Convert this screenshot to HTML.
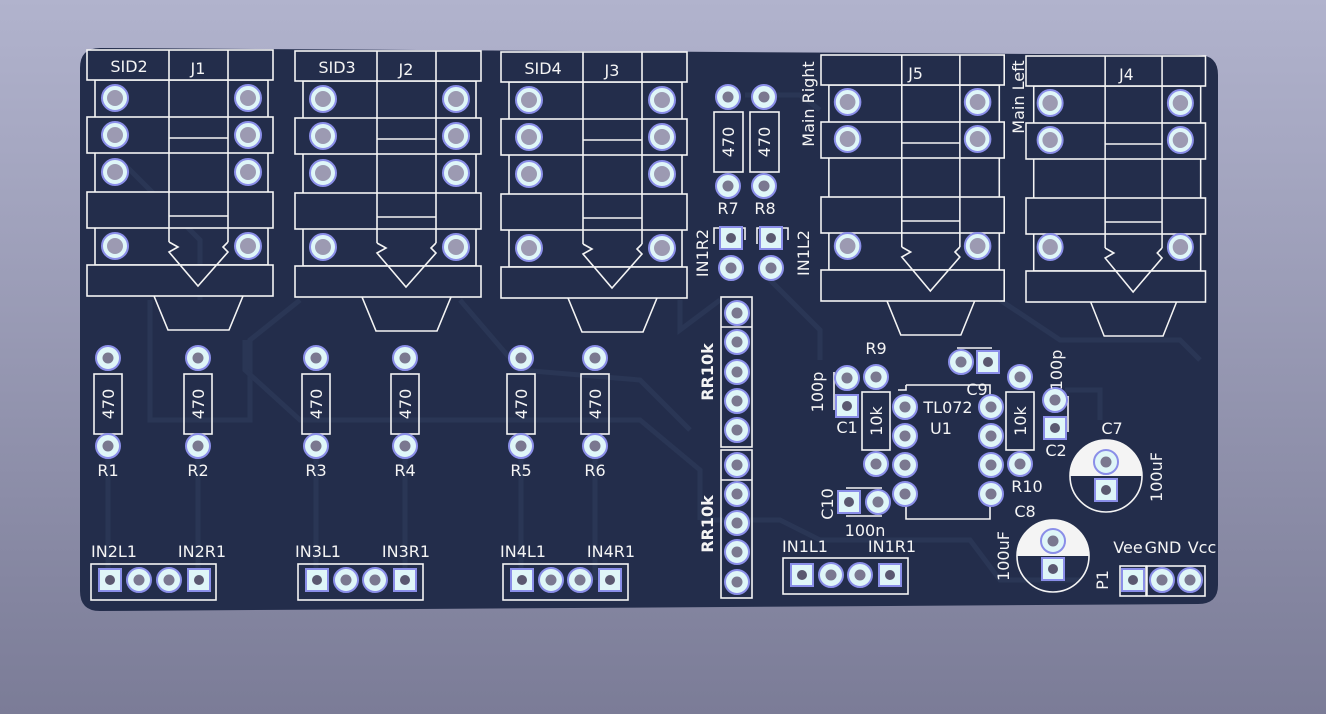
<!DOCTYPE html>
<html><head><meta charset="utf-8"><style>
html,body{margin:0;padding:0;width:1326px;height:714px;overflow:hidden}
svg{display:block}
text{font-family:"DejaVu Sans","Liberation Sans",sans-serif;fill:#f4f4f4;font-size:16px}
</style></head><body>
<svg width="1326" height="714" viewBox="0 0 1326 714" xmlns="http://www.w3.org/2000/svg">
<defs>
<linearGradient id="bg" x1="0" y1="0" x2="0" y2="1">
<stop offset="0" stop-color="#b1b3cd"/><stop offset="1" stop-color="#7b7c97"/></linearGradient>
<g id="pj"><circle r="13" fill="#dff6f8" stroke="#8a8ee8" stroke-width="2"/><circle r="8" fill="#9c9ab2"/></g>
<g id="pr"><circle r="12" fill="#dff6f8" stroke="#8a8ee8" stroke-width="2"/><circle r="5.5" fill="#7a7890"/></g>
<g id="ps"><rect x="-11" y="-11" width="22" height="22" fill="#dff6f8" stroke="#8a8ee8" stroke-width="2"/><circle r="5" fill="#5a5870"/></g>
<g id="jack" fill="none" stroke="#f4f4f4" stroke-width="1.6">
<rect x="8" y="30" width="173" height="185"/>
<rect x="0" y="0" width="186" height="30" fill="#232d4b"/>
<line x1="82" y1="0" x2="82" y2="30"/><line x1="141" y1="0" x2="141" y2="30"/>
<rect x="0" y="67" width="186" height="36" fill="#232d4b"/>
<rect x="0" y="142" width="186" height="36" fill="#232d4b"/>
<rect x="0" y="215" width="186" height="31" fill="#232d4b"/>
<line x1="82" y1="30" x2="82" y2="192"/><line x1="141" y1="30" x2="141" y2="192"/>
<line x1="82" y1="88" x2="141" y2="88"/><line x1="82" y1="166" x2="141" y2="166"/>
<polyline points="82,192 91,197 82,202 111,236 141,202 136,197 141,192"/>
<polyline points="67,246 81,280 142,280 156,246"/>
</g>
</defs>
<rect width="1326" height="714" fill="url(#bg)"/>
<path d="M100,48 L1198,55 Q1218,55 1218,75 L1218,585 Q1218,604 1198,604 L100,611 Q80,611 80,591 L80,68 Q80,48 100,48 Z" fill="#232d4b"/>
<g stroke="#2a3655" stroke-width="5" fill="none">
<polyline points="108,446 108,580"/><polyline points="198,446 198,580"/>
<polyline points="316,446 316,580"/><polyline points="405,446 405,580"/>
<polyline points="521,446 521,580"/><polyline points="595,446 595,580"/>
<polyline points="150,300 150,420 250,420 250,340 300,300"/>
<polyline points="245,340 245,370 300,420 640,420 700,470 700,520"/>
<polyline points="460,300 520,370 640,380 690,430"/>
<polyline points="680,300 680,330 720,300"/>
<polyline points="770,280 820,330 820,360"/>
<polyline points="700,520 780,520 820,540 970,540 1000,580 1080,580"/>
<polyline points="1000,300 1060,340 1180,340 1200,360"/>
<polyline points="1065,390 1100,390 1100,420"/>
<polyline points="745,95 800,95 820,110"/>
<polyline points="120,160 200,240 200,300"/>
</g>
<g transform="translate(87,50)"><use href="#jack"/><text x="42" y="22" text-anchor="middle">SID2</text><text x="111" y="24" text-anchor="middle">J1</text>
<use href="#pj" x="28" y="48"/><use href="#pj" x="161" y="48"/><use href="#pj" x="28" y="85"/><use href="#pj" x="161" y="85"/><use href="#pj" x="28" y="122"/><use href="#pj" x="161" y="122"/><use href="#pj" x="28" y="196"/><use href="#pj" x="161" y="196"/></g>
<g transform="translate(295,51)"><use href="#jack"/><text x="42" y="22" text-anchor="middle">SID3</text><text x="111" y="24" text-anchor="middle">J2</text>
<use href="#pj" x="28" y="48"/><use href="#pj" x="161" y="48"/><use href="#pj" x="28" y="85"/><use href="#pj" x="161" y="85"/><use href="#pj" x="28" y="122"/><use href="#pj" x="161" y="122"/><use href="#pj" x="28" y="196"/><use href="#pj" x="161" y="196"/></g>
<g transform="translate(501,52)"><use href="#jack"/><text x="42" y="22" text-anchor="middle">SID4</text><text x="111" y="24" text-anchor="middle">J3</text>
<use href="#pj" x="28" y="48"/><use href="#pj" x="161" y="48"/><use href="#pj" x="28" y="85"/><use href="#pj" x="161" y="85"/><use href="#pj" x="28" y="122"/><use href="#pj" x="161" y="122"/><use href="#pj" x="28" y="196"/><use href="#pj" x="161" y="196"/></g>
<g transform="translate(821,55) scale(0.985,1)"><use href="#jack"/><text x="96" y="24" text-anchor="middle">J5</text>
<use href="#pj" x="27" y="47"/><use href="#pj" x="159" y="47"/><use href="#pj" x="27" y="84"/><use href="#pj" x="159" y="84"/><use href="#pj" x="27" y="191"/><use href="#pj" x="159" y="191"/></g>
<g transform="translate(1026,56) scale(0.965,1)"><use href="#jack"/><text x="104" y="24" text-anchor="middle">J4</text>
<use href="#pj" x="25" y="47"/><use href="#pj" x="160" y="47"/><use href="#pj" x="25" y="84"/><use href="#pj" x="160" y="84"/><use href="#pj" x="25" y="191"/><use href="#pj" x="160" y="191"/></g>
<text transform="translate(814,104) rotate(-90)" text-anchor="middle">Main Right</text>
<text transform="translate(1024,97) rotate(-90)" text-anchor="middle">Main Left</text>
<g fill="none" stroke="#f4f4f4" stroke-width="1.6">
<rect x="94" y="374" width="28" height="60"/><rect x="184" y="374" width="28" height="60"/>
<rect x="302" y="374" width="28" height="60"/><rect x="391" y="374" width="28" height="60"/>
<rect x="507" y="374" width="28" height="60"/><rect x="581" y="374" width="28" height="60"/>
<rect x="714" y="112" width="29" height="60"/><rect x="750" y="112" width="29" height="60"/>
<rect x="862" y="392" width="28" height="58"/><rect x="1006" y="392" width="28" height="58"/>
<rect x="721" y="297" width="31" height="150"/><rect x="721" y="450" width="31" height="148"/>
<line x1="721" y1="327" x2="752" y2="327"/><line x1="721" y1="480" x2="752" y2="480"/>
<rect x="91" y="564" width="125" height="36"/><rect x="298" y="564" width="125" height="36"/>
<rect x="503" y="564" width="125" height="36"/><rect x="783" y="558" width="125" height="36"/>
<rect x="1147" y="566" width="58" height="30"/><rect x="1120" y="566" width="26" height="30"/>
<polyline points="906,385 906,390 898,390"/><polyline points="906,385 990,385 990,396"/>
<polyline points="906,505 906,519 990,519 990,505"/>
<line x1="834" y1="372" x2="834" y2="410"/><line x1="1068" y1="396" x2="1068" y2="432"/>
<line x1="957" y1="348" x2="992" y2="348"/>
<line x1="846" y1="488" x2="882" y2="488"/><line x1="846" y1="516" x2="882" y2="516"/>
<polyline points="714,244 714,228 745,228 745,240"/><polyline points="757,244 757,228 788,228 788,240"/>
<circle cx="1106" cy="476" r="36"/><circle cx="1053" cy="556" r="36"/>
</g>
<path d="M1070,476 A36,36 0 0 1 1142,476 Z" fill="#f4f4f4"/>
<path d="M1017,556 A36,36 0 0 1 1089,556 Z" fill="#f4f4f4"/>
<g>
<use href="#pr" x="108" y="358"/><use href="#pr" x="108" y="446"/><use href="#pr" x="198" y="358"/><use href="#pr" x="198" y="446"/>
<use href="#pr" x="316" y="358"/><use href="#pr" x="316" y="446"/><use href="#pr" x="405" y="358"/><use href="#pr" x="405" y="446"/>
<use href="#pr" x="521" y="358"/><use href="#pr" x="521" y="446"/><use href="#pr" x="595" y="358"/><use href="#pr" x="595" y="446"/>
<use href="#pr" x="728" y="97"/><use href="#pr" x="728" y="186"/><use href="#pr" x="764" y="97"/><use href="#pr" x="764" y="186"/>
<use href="#ps" x="731" y="238"/><use href="#pr" x="731" y="268"/><use href="#ps" x="771" y="238"/><use href="#pr" x="771" y="268"/>
<use href="#pr" x="737" y="313"/><use href="#pr" x="737" y="342"/><use href="#pr" x="737" y="372"/><use href="#pr" x="737" y="401"/><use href="#pr" x="737" y="430"/>
<use href="#pr" x="737" y="465"/><use href="#pr" x="737" y="494"/><use href="#pr" x="737" y="523"/><use href="#pr" x="737" y="552"/><use href="#pr" x="737" y="582"/>
<use href="#ps" x="110" y="580"/><use href="#pr" x="139" y="580"/><use href="#pr" x="169" y="580"/><use href="#ps" x="199" y="580"/>
<use href="#ps" x="317" y="580"/><use href="#pr" x="346" y="580"/><use href="#pr" x="375" y="580"/><use href="#ps" x="405" y="580"/>
<use href="#ps" x="522" y="580"/><use href="#pr" x="551" y="580"/><use href="#pr" x="580" y="580"/><use href="#ps" x="610" y="580"/>
<use href="#ps" x="802" y="575"/><use href="#pr" x="831" y="575"/><use href="#pr" x="860" y="575"/><use href="#ps" x="890" y="575"/>
<use href="#pr" x="876" y="377"/><use href="#pr" x="876" y="464"/><use href="#pr" x="1020" y="377"/><use href="#pr" x="1020" y="464"/>
<use href="#pr" x="905" y="407"/><use href="#pr" x="905" y="436"/><use href="#pr" x="905" y="465"/><use href="#pr" x="905" y="494"/>
<use href="#pr" x="991" y="407"/><use href="#pr" x="991" y="436"/><use href="#pr" x="991" y="465"/><use href="#pr" x="991" y="494"/>
<use href="#pr" x="847" y="378"/><use href="#ps" x="847" y="406"/><use href="#pr" x="1055" y="400"/><use href="#ps" x="1055" y="428"/>
<use href="#pr" x="961" y="362"/><use href="#ps" x="988" y="362"/><use href="#ps" x="849" y="502"/><use href="#pr" x="878" y="502"/>
<use href="#pr" x="1106" y="462"/><use href="#ps" x="1106" y="490"/><use href="#pr" x="1053" y="541"/><use href="#ps" x="1053" y="569"/>
<use href="#ps" x="1133" y="580"/><use href="#pr" x="1162" y="580"/><use href="#pr" x="1190" y="580"/>
</g>
<g>
<text transform="translate(114,404) rotate(-90)" text-anchor="middle">470</text>
<text transform="translate(204,404) rotate(-90)" text-anchor="middle">470</text>
<text transform="translate(322,404) rotate(-90)" text-anchor="middle">470</text>
<text transform="translate(411,404) rotate(-90)" text-anchor="middle">470</text>
<text transform="translate(527,404) rotate(-90)" text-anchor="middle">470</text>
<text transform="translate(601,404) rotate(-90)" text-anchor="middle">470</text>
<text transform="translate(734,142) rotate(-90)" text-anchor="middle">470</text>
<text transform="translate(770,142) rotate(-90)" text-anchor="middle">470</text>
<text transform="translate(882,421) rotate(-90)" text-anchor="middle">10k</text>
<text transform="translate(1026,421) rotate(-90)" text-anchor="middle">10k</text>
<text x="108" y="476" text-anchor="middle">R1</text><text x="198" y="476" text-anchor="middle">R2</text>
<text x="316" y="476" text-anchor="middle">R3</text><text x="405" y="476" text-anchor="middle">R4</text>
<text x="521" y="476" text-anchor="middle">R5</text><text x="595" y="476" text-anchor="middle">R6</text>
<text x="728" y="214" text-anchor="middle">R7</text><text x="765" y="214" text-anchor="middle">R8</text>
<text transform="translate(708,253) rotate(-90)" text-anchor="middle">IN1R2</text>
<text transform="translate(809,253) rotate(-90)" text-anchor="middle">IN1L2</text>
<text transform="translate(713,372) rotate(-90)" text-anchor="middle" font-weight="bold">RR10k</text>
<text transform="translate(713,524) rotate(-90)" text-anchor="middle" font-weight="bold">RR10k</text>
<text x="114" y="557" text-anchor="middle">IN2L1</text><text x="202" y="557" text-anchor="middle">IN2R1</text>
<text x="318" y="557" text-anchor="middle">IN3L1</text><text x="406" y="557" text-anchor="middle">IN3R1</text>
<text x="523" y="557" text-anchor="middle">IN4L1</text><text x="611" y="557" text-anchor="middle">IN4R1</text>
<text x="805" y="552" text-anchor="middle">IN1L1</text><text x="892" y="552" text-anchor="middle">IN1R1</text>
<text x="876" y="354" text-anchor="middle">R9</text><text x="1027" y="492" text-anchor="middle">R10</text>
<text x="948" y="413" text-anchor="middle">TL072</text><text x="941" y="434" text-anchor="middle">U1</text>
<text x="977" y="395" text-anchor="middle">C9</text>
<text transform="translate(823,392) rotate(-90)" text-anchor="middle">100p</text>
<text x="847" y="433" text-anchor="middle">C1</text>
<text transform="translate(1062,370) rotate(-90)" text-anchor="middle">100p</text>
<text x="1056" y="456" text-anchor="middle">C2</text>
<text transform="translate(833,504) rotate(-90)" text-anchor="middle">C10</text>
<text x="865" y="536" text-anchor="middle">100n</text>
<text x="1112" y="434" text-anchor="middle">C7</text>
<text transform="translate(1162,477) rotate(-90)" text-anchor="middle">100uF</text>
<text x="1025" y="517" text-anchor="middle">C8</text>
<text transform="translate(1009,556) rotate(-90)" text-anchor="middle">100uF</text>
<text x="1128" y="553" text-anchor="middle" font-size="15">Vee</text><text x="1163" y="553" text-anchor="middle" font-size="15">GND</text><text x="1202" y="553" text-anchor="middle" font-size="15">Vcc</text>
<text transform="translate(1108,580) rotate(-90)" text-anchor="middle">P1</text>
</g>
</svg>
</body></html>
